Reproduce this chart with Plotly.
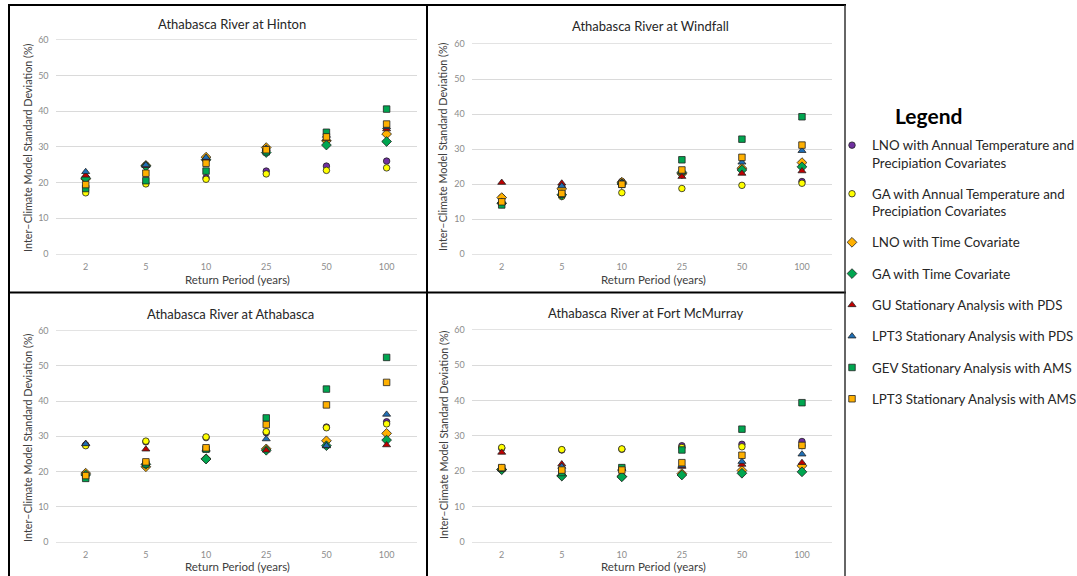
import plotly.graph_objects as go

W, H = 1077, 576

return_periods = ["2", "5", "10", "25", "50", "100"]

series_names = [
    "LNO with Annual Temperature and<br>Precipiation Covariates",
    "GA with Annual Temperature and<br>Precipiation Covariates",
    "LNO with Time Covariate",
    "GA with Time Covariate",
    "GU Stationary Analysis with PDS",
    "LPT3 Stationary Analysis with PDS",
    "GEV Stationary Analysis with AMS",
    "LPT3 Stationary Analysis with AMS",
]

# Athabasca River at Hinton
hinton_lno_tp = [21.0, 24.8, 21.3, 23.2, 24.6, 26.0]
hinton_ga_tp = [17.1, 19.6, 20.9, 22.4, 23.4, 24.1]
hinton_lno_t = [21.0, 24.8, 27.1, 29.8, 31.7, 33.6]
hinton_ga_t = [21.2, 24.6, 26.4, 28.4, 30.5, 31.5]
hinton_gu_pds = [22.0, 24.7, 26.6, 29.4, 32.2, 35.0]
hinton_lpt3_pds = [23.0, 24.9, 27.0, 29.6, 33.2, 35.6]
hinton_gev_ams = [18.3, 20.5, 23.2, 28.6, 34.1, 40.6]
hinton_lpt3_ams = [19.4, 22.6, 25.4, 29.2, 32.8, 36.4]

# Athabasca River at Windfall
windfall_lno_tp = [16.2, 19.3, 20.8, 23.0, 24.4, 20.8]
windfall_ga_tp = [16.0, 16.5, 17.6, 18.8, 19.7, 20.3]
windfall_lno_t = [16.2, 18.7, 20.6, 23.0, 24.6, 26.2]
windfall_ga_t = [14.6, 17.0, 20.2, 23.4, 24.1, 25.0]
windfall_gu_pds = [20.5, 20.3, 20.4, 22.2, 23.1, 23.8]
windfall_lpt3_pds = [15.0, 19.5, 20.5, 23.5, 26.3, 29.6]
windfall_gev_ams = [14.1, 17.2, 20.0, 27.0, 32.9, 39.3]
windfall_lpt3_ams = [15.0, 17.4, 20.0, 24.1, 27.7, 31.2]

# Athabasca River at Athabasca
athabasca_lno_tp = [27.5, 28.4, 29.6, 31.0, 32.6, 34.1]
athabasca_ga_tp = [27.3, 28.6, 29.8, 31.3, 32.4, 33.5]
athabasca_lno_t = [19.5, 21.3, 23.6, 26.4, 28.7, 30.8]
athabasca_ga_t = [19.0, 22.0, 23.5, 26.0, 27.3, 28.9]
athabasca_gu_pds = [27.9, 26.3, 26.2, 26.0, 27.2, 27.5]
athabasca_lpt3_pds = [27.8, 22.3, 26.4, 29.2, 27.3, 36.2]
athabasca_gev_ams = [18.0, 22.1, 26.3, 35.2, 43.4, 52.4]
athabasca_lpt3_ams = [18.8, 22.7, 26.7, 33.3, 38.9, 45.3]

# Athabasca River at Fort McMurray
fortmcm_lno_tp = [26.5, 26.0, 26.2, 27.2, 27.6, 28.4]
fortmcm_ga_tp = [26.7, 26.1, 26.3, 26.7, 26.9, 27.2]
fortmcm_lno_t = [20.5, 18.7, 18.5, 19.3, 20.2, 21.5]
fortmcm_ga_t = [20.4, 18.6, 18.4, 18.9, 19.4, 19.8]
fortmcm_gu_pds = [25.3, 22.0, 20.8, 21.3, 21.9, 22.4]
fortmcm_lpt3_pds = [20.6, 21.3, 20.7, 21.6, 22.7, 24.8]
fortmcm_gev_ams = [20.8, 19.6, 21.0, 26.0, 31.9, 39.4]
fortmcm_lpt3_ams = [21.0, 20.3, 20.3, 22.4, 24.5, 27.3]

panel_titles = [
    "Athabasca River at Hinton",
    "Athabasca River at Windfall",
    "Athabasca River at Athabasca",
    "Athabasca River at Fort McMurray",
]

panels = [
    [hinton_lno_tp, hinton_ga_tp, hinton_lno_t, hinton_ga_t,
     hinton_gu_pds, hinton_lpt3_pds, hinton_gev_ams, hinton_lpt3_ams],
    [windfall_lno_tp, windfall_ga_tp, windfall_lno_t, windfall_ga_t,
     windfall_gu_pds, windfall_lpt3_pds, windfall_gev_ams, windfall_lpt3_ams],
    [athabasca_lno_tp, athabasca_ga_tp, athabasca_lno_t, athabasca_ga_t,
     athabasca_gu_pds, athabasca_lpt3_pds, athabasca_gev_ams, athabasca_lpt3_ams],
    [fortmcm_lno_tp, fortmcm_ga_tp, fortmcm_lno_t, fortmcm_ga_t,
     fortmcm_gu_pds, fortmcm_lpt3_pds, fortmcm_gev_ams, fortmcm_lpt3_ams],
]

# styles
colors = ["#7030A0", "#FFFF00", "#FFB000", "#00A650", "#C00000", "#1F6FB5", "#00A650", "#FFB000"]
symbols = ["circle", "circle", "diamond", "diamond", "triangle-up", "triangle-up", "square", "square"]
sizes = [6.5, 6.5, 7.5, 7.5, 7, 7, 6.5, 6.5]

FONT = "Lato, 'Open Sans', sans-serif"


def px(x):
    return x / W


def py(y):
    return 1 - y / H


# panel geometry in pixels: (left, right, top(=60), bottom(=0))
geo = [
    (55.6, 416.7, 40.0, 253.7),
    (471.7, 832.0, 44.3, 254.3),
    (55.6, 416.7, 330.7, 541.7),
    (471.7, 832.0, 330.0, 541.7),
]
title_pos = [(232, 24), (650, 26), (230, 314), (646, 313)]
ytitle_pos = [(27, 148), (443, 147), (27, 438), (443, 435)]
xtitle_pos = [(237, 279), (653, 279), (237, 566), (653, 566)]

fig = go.Figure()

for p, vals in enumerate(panels):
    suffix = "" if p == 0 else str(p + 1)
    for s, yv in enumerate(vals):
        fig.add_trace(go.Scatter(
            x=return_periods, y=yv, mode="markers",
            name=series_names[s], legendgroup=str(s), showlegend=(p == 0),
            marker=dict(symbol=symbols[s], color=colors[s], size=sizes[s],
                        line=dict(color="#222222", width=0.8)),
            xaxis="x" + suffix, yaxis="y" + suffix,
        ))

layout = dict(
    width=W, height=H,
    margin=dict(l=0, r=0, t=0, b=0, pad=0, autoexpand=False),
    paper_bgcolor="white", plot_bgcolor="white",
    font=dict(family=FONT, color="#404040"),
    legend=dict(
        x=px(832), y=py(130), xanchor="left", yanchor="top",
        font=dict(family=FONT, size=13.3, color="#262626"),
        tracegroupgap=11, traceorder="grouped", valign="top",
        bgcolor="rgba(0,0,0,0)",
    ),
    annotations=[], shapes=[],
)

for p in range(4):
    suffix = "" if p == 0 else str(p + 1)
    l, r, t, b = geo[p]
    layout["xaxis" + suffix] = dict(
        domain=[px(l), px(r)], anchor="y" + suffix,
        type="category", categoryorder="array", categoryarray=return_periods,
        range=[-0.5, 5.5], showgrid=False, zeroline=False, automargin=False,
        showline=True, linecolor="#E3E3E3", linewidth=1, mirror=True,
        ticks="", ticklabelstandoff=4,
        tickfont=dict(family=FONT, size=9, color="#8C8C8C"),
        fixedrange=True,
    )
    layout["yaxis" + suffix] = dict(
        domain=[py(b), py(t)], anchor="x" + suffix,
        range=[0, 60], tickvals=[0, 10, 20, 30, 40, 50, 60], automargin=False,
        showgrid=True, gridcolor="#DADADA", gridwidth=1, zeroline=False,
        showline=False, ticks="", ticklabelstandoff=6,
        tickfont=dict(family=FONT, size=9, color="#8C8C8C"),
        fixedrange=True,
    )
    tx, ty = title_pos[p]
    layout["annotations"].append(dict(
        text=panel_titles[p], x=px(tx), y=py(ty), xref="paper", yref="paper",
        showarrow=False, xanchor="center", yanchor="middle",
        font=dict(family=FONT, size=13, color="#262626")))
    yx, yy = ytitle_pos[p]
    layout["annotations"].append(dict(
        text="Inter–Climate Model Standard Deviation (%)", x=px(yx), y=py(yy),
        xref="paper", yref="paper", showarrow=False, textangle=-90,
        xanchor="center", yanchor="middle",
        font=dict(family=FONT, size=10.8, color="#404040")))
    xx, xy = xtitle_pos[p]
    layout["annotations"].append(dict(
        text="Return Period (years)", x=px(xx), y=py(xy), xref="paper", yref="paper",
        showarrow=False, xanchor="center", yanchor="middle",
        font=dict(family=FONT, size=11.5, color="#404040")))

layout["annotations"].append(dict(
    text="<b>Legend</b>", x=px(928), y=py(115), xref="paper", yref="paper",
    showarrow=False, xanchor="center", yanchor="middle",
    font=dict(family=FONT, size=21, color="#000000")))


def line(x0, y0, x1, y1, color="#000000", width=2):
    return dict(type="line", xref="paper", yref="paper",
                x0=px(x0), y0=py(y0), x1=px(x1), y1=py(y1),
                line=dict(color=color, width=width))


layout["shapes"] += [
    line(8, 5, 846, 5),
    line(9, 5, 9, 576),
    line(427, 5, 427, 576),
    line(9, 292.5, 846, 292.5),
    line(845, 5, 845, 576, color="#333333", width=1.5),
]

fig.update_layout(**layout)
fig.write_html(
    "out.html",
    config={"displayModeBar": False},
    post_script="document.body.style.margin='0';document.body.style.padding='0';"
                "document.body.style.overflow='hidden';",
)
